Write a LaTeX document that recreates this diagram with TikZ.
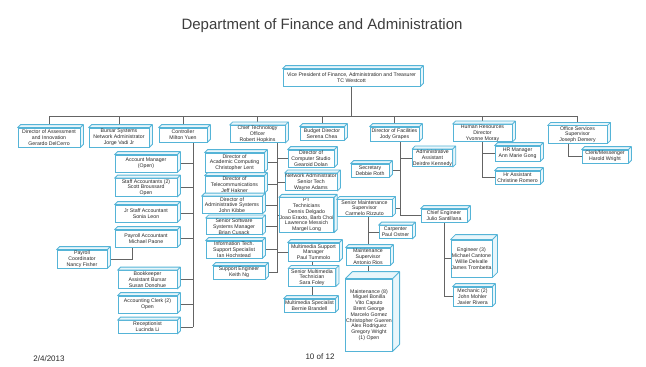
\documentclass[tikz,border=0pt]{standalone}
\usepackage{fontspec}
\setmainfont{Liberation Sans}
\usetikzlibrary{backgrounds}

\definecolor{boxedge}{RGB}{85,180,215}
\definecolor{boxside}{RGB}{232,246,251}
\definecolor{wire}{RGB}{100,100,100}
\definecolor{ink}{RGB}{40,40,40}

\newcommand\boxfont{\fontsize{5.2}{5.8}\selectfont}
% top and right faces of a card, #2 = depth in pt
\newcommand\cubeface[2]{%
  \draw[boxedge,line width=0.8pt,fill=boxside,line join=round]
    (#1.north west) -- ++(#2pt,#2pt) -- ([shift={(#2pt,#2pt)}]#1.north east)
    -- ([shift={(#2pt,#2pt)}]#1.south east) -- (#1.south east) -- (#1.north east) -- cycle
    (#1.north east) -- ++(#2pt,#2pt);}

\begin{document}
\begin{tikzpicture}[x=1pt,y=-1pt,
  card/.style={draw=boxedge,fill=white,line width=0.8pt,align=center,inner sep=0.4pt,font=\boxfont,text=ink},
  wh/.style 2 args={minimum width=#1pt,minimum height=#2pt},
  link/.style={draw=wire,line width=0.8pt}]
\useasboundingbox (0,0) rectangle (646,367);

\node[font=\fontsize{15}{18}\selectfont,text=ink!90] (title) at (322,26) {Department of Finance and Administration};
\node[font=\fontsize{8}{10}\selectfont,text=ink] (date) at (49,359) {2/4/2013};
\node[font=\fontsize{8}{10}\selectfont,text=ink] (page) at (320,357) {10 of 12};

% top rows
\path
  node[card,wh={137}{17}] (vp) at (351.5,77.5) {Vice President of Finance, Administration and Treasurer\\TC Westcott}
  node[card,wh={62}{19}] (assess) at (49,137.5) {Director of Assessment\\and Innovation\\Gerardo DelCerro}
  node[card,wh={60}{19}] (bursar) at (119,137.5) {Bursar Systems\\Network Administrator\\Jorge Vadi Jr}
  node[card,wh={48}{14}] (ctrl) at (183,135) {Controller\\Milton Yuen}
  node[card,wh={55}{17}] (cto) at (257.5,134) {Chief Technology\\Officer\\Robert Hopkins}
  node[card,wh={44}{13}] (budget) at (322,133.5) {Budget Director\\Serena Chea}
  node[card,wh={49}{14}] (facil) at (394.5,134) {Director of Facilities\\Jody Grapes}
  node[card,wh={59}{17}] (hr) at (482.5,133) {Human Resources\\Director\\Yvonne Moray}
  node[card,wh={59}{17}] (office) at (577.5,134.5) {Office Services\\Supervisor\\Joseph Demery};

% controller
\path
  node[card,wh={62}{17}] (acctmgr) at (146,163.5) {Account Manager\\(Open)}
  node[card,wh={62}{18}] (staffacct) at (146,187.5) {Staff Accountants (2)\\Scott Broussard\\Open}
  node[card,wh={62}{17}] (jrstaff) at (146,213.5) {Jr Staff Accountant\\Sonia Leon}
  node[card,wh={62}{17}] (payacct) at (146,238.5) {Payroll Accountant\\Michael Paone}
  node[card,wh={50}{18}] (paycoord) at (82,259) {Payroll\\Coordinator\\Nancy Fisher}
  node[card,wh={59}{18}] (bookkeep) at (147.5,279.5) {Bookkeeper\\Assistant Bursar\\Susan Donohue}
  node[card,wh={59}{17}] (acctclerk) at (147.5,304.5) {Accounting Clerk (2)\\Open}
  node[card,wh={59}{13}] (recept) at (147.5,327) {Receptionist\\Lucinda Li};

% technology
\path
  node[card,wh={59}{19}] (acadcomp) at (234.5,162.5) {Director of\\Academic Computing\\Christopher Lent}
  node[card,wh={59}{17}] (telecom) at (234.5,184.5) {Director of\\Telecommunications\\Jeff Hakner}
  node[card,wh={60}{17}] (adminsys) at (232,205) {Director of\\Administrative Systems\\John Kibbe}
  node[card,wh={56}{16}] (softmgr) at (234,226.5) {Senior Software\\Systems Manager\\Brian Cusack}
  node[card,wh={56}{17}] (infotech) at (234,249.5) {Information Tech.\\Support Specialist\\Ian Hochstead}
  node[card,wh={52}{13}] (supeng) at (239,272.5) {Support Engineer\\Keith Ng}
  node[card,wh={46}{17}] (compstudio) at (311,158.5) {Director of\\Computer Studio\\Gearoid Dolan}
  node[card,wh={52}{16}] (netadmin) at (311,182) {Network Administrator\\Senior Tech\\Wayne Adams}
  node[card,wh={47}{34}] (ptech) at (306.5,215) {PT\\Technicians\\Dennis Delgado\\Joao Eraxto, Barb Choi\\Lawrence Messich\\Margel Long}
  node[card,wh={51}{18}] (mmmgr) at (313.5,252) {Multimedia Support\\Manager\\Paul Tummolo}
  node[card,wh={47}{17}] (mmtech) at (312,277.5) {Senior Multimedia\\Technician\\Sara Foley}
  node[card,wh={51}{13}] (mmspec) at (309.5,305.5) {Multimedia Specialist\\Bernie Brandell};

% facilities
\path
  node[card,wh={39}{17}] (adminasst) at (432.5,158) {Administrative\\Assistant\\Deirdre Kennedy}
  node[card,wh={38}{13}] (secretary) at (370,170.5) {Secretary\\Debbie Roth}
  node[card,wh={55}{16}] (srmaint) at (364.5,208) {Senior Maintenance\\Supervisor\\Carmelo Rizzuto}
  node[card,wh={46}{13}] (chiefeng) at (444,215.5) {Chief Engineer\\Julio Santillana}
  node[card,wh={33}{13}] (carpenter) at (395.5,232) {Carpenter\\Paul Ostner}
  node[card,wh={44}{17}] (maintsup) at (368,256.5) {Maintenance\\Supervisor\\Antonio Rios}
  node[card,wh={44}{72}] (maint8) at (369,315) {Maintenance (8)\\Miguel Bonilla\\Vito Caputo\\Brent George\\Marcelo Gomez\\Christopher Gueren\\Alex Rodriguez\\Gregory Wright\\(1) Open}
  node[card,wh={37}{37}] (eng3) at (471.5,258.5) {Engineer (3)\\Michael Cantone\\Willie Delvalle\\James Trombetta}
  node[card,wh={39}{19}] (mechanic) at (472.5,296.5) {Mechanic (2)\\John Mohler\\Javier Rivera};

% hr and office
\path
  node[card,wh={45}{15}] (hrmgr) at (517.5,153.5) {HR Manager\\Ann Marie Gong}
  node[card,wh={45}{13}] (hrasst) at (517.5,177.5) {Hr Assistant\\Christine Romero}
  node[card,wh={46}{13}] (clerk) at (605,156.5) {Clerk/Messenger\\Harold Wright};

\foreach \n in {vp,assess,bursar,ctrl,cto,budget,facil,hr,office,
  acctmgr,staffacct,jrstaff,payacct,paycoord,bookkeep,acctclerk,recept,
  acadcomp,telecom,adminsys,softmgr,infotech,supeng,compstudio,netadmin,ptech,mmmgr,mmtech,mmspec,
  adminasst,secretary,srmaint,chiefeng,carpenter,maintsup,mechanic,hrmgr,hrasst,clerk}
  \cubeface{\n}{3};
\cubeface{maint8}{7}
\cubeface{eng3}{5}

\begin{scope}[on background layer]
\coordinate (bus) at (0,116);
\coordinate (ctrltrunk) at (193,0);
\coordinate (ctotrunk) at (277,0);
\coordinate (factrunk) at (400,0);
\draw[link] (vp.south) -- (vp.south |- bus);
\draw[link] (assess.north) -- (assess.north |- bus) -| (office.north);
\foreach \n in {bursar,ctrl,cto,budget,facil,hr}
  \draw[link] (\n.north) -- (\n.north |- bus);
% controller
\draw[link] (ctrl.south -| ctrltrunk) -- (recept.east -| ctrltrunk);
\foreach \n in {acctmgr,staffacct,jrstaff,payacct,bookkeep,acctclerk,recept}
  \draw[link] (\n.east) -- (\n.east -| ctrltrunk);
\draw[link] (paycoord.east) -| ([xshift=-14pt]payacct.south);
% technology
\draw[link] (cto.south -| ctotrunk) -- (supeng.east -| ctotrunk);
\foreach \n in {acadcomp,telecom,adminsys,softmgr,infotech,supeng}
  \draw[link] (\n.east) -- (\n.east -| ctotrunk);
\foreach \n in {compstudio,netadmin,ptech,mmmgr}
  \draw[link] (\n.west) -- (\n.west -| ctotrunk);
\draw[link] (mmmgr.south -| mmtech.north) -- (mmspec.north -| mmtech.north);
% facilities
\draw[link] (facil.south -| factrunk) |- (chiefeng.west);
\draw[link] (adminasst.west) -- (adminasst.west -| factrunk);
\foreach \n in {secretary,srmaint}
  \draw[link] (\n.east) -- (\n.east -| factrunk);
\draw[link] (srmaint.south -| maintsup.north) -- (maint8.north -| maintsup.north);
\draw[link] (carpenter.west) -- (carpenter.west -| maintsup.north);
\draw[link] (chiefeng.south) |- (mechanic.west);
\draw[link] (eng3.west) -- (eng3.west -| chiefeng.south);
% hr and office
\draw[link] (hr.south) |- (hrasst.west);
\draw[link] (hrmgr.west) -- (hrmgr.west -| hr.south);
\draw[link] ([xshift=-9pt]office.south) |- (clerk.west);
\end{scope}
\end{tikzpicture}
\end{document}
